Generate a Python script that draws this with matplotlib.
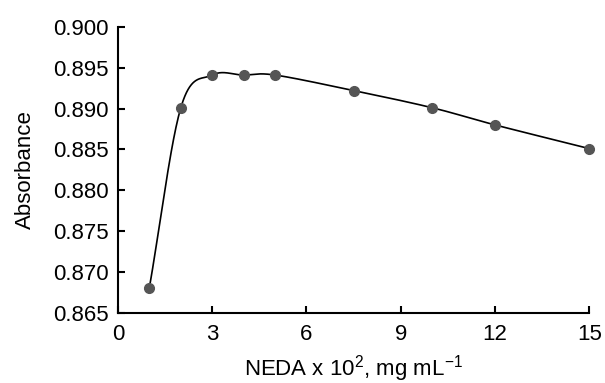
import matplotlib

matplotlib.use("Agg")

import matplotlib.pyplot as plt
import numpy as np

plt.rcParams["font.family"] = ["Liberation Sans", "DejaVu Sans"]
plt.rcParams["mathtext.fontset"] = "custom"
plt.rcParams["mathtext.rm"] = "Liberation Sans"

neda = [1, 2, 3, 4, 5, 7.5, 10, 12, 15]
absorbance = [0.8681, 0.8901, 0.8941, 0.8941, 0.8941, 0.8922, 0.8901, 0.8880, 0.8851]
x_ticks = [0, 3, 6, 9, 12, 15]
y_ticks = [0.865, 0.870, 0.875, 0.880, 0.885, 0.890, 0.895, 0.900]


def smooth_curve(xs, ys, steps=40):
    # Catmull-Rom through the points, like a spreadsheet "smoothed line"
    px = np.array(xs, dtype=float)
    py = np.array(ys, dtype=float)
    px = np.concatenate([[2 * px[0] - px[1]], px, [2 * px[-1] - px[-2]]])
    py = np.concatenate([[2 * py[0] - py[1]], py, [2 * py[-1] - py[-2]]])
    out_x, out_y = [], []
    t = np.linspace(0, 1, steps)
    for i in range(1, len(px) - 2):
        for arr, out in ((px, out_x), (py, out_y)):
            p0, p1, p2, p3 = arr[i - 1], arr[i], arr[i + 1], arr[i + 2]
            seg = 0.5 * (
                2 * p1
                + (-p0 + p2) * t
                + (2 * p0 - 5 * p1 + 4 * p2 - p3) * t ** 2
                + (-p0 + 3 * p1 - 3 * p2 + p3) * t ** 3
            )
            out.extend(seg)
    return out_x, out_y


fig = plt.figure(figsize=(6.05, 3.83), dpi=100)
ax = fig.add_axes([0.195, 0.183, 0.779, 0.747])

cx, cy = smooth_curve(neda, absorbance)
ax.plot(cx, cy, color="black", linewidth=1.2, zorder=2)
ax.plot(neda, absorbance, linestyle="none", marker="o", markersize=7,
        color="#555555", zorder=3, clip_on=False)

ax.set_xlim(0, 15)
ax.set_ylim(0.865, 0.900)
ax.set_xticks(x_ticks)
ax.set_yticks(y_ticks)
ax.set_yticklabels([f"{v:.3f}" for v in y_ticks])

for side in ("top", "right"):
    ax.spines[side].set_visible(False)
for side in ("left", "bottom"):
    ax.spines[side].set_linewidth(1.5)
ax.tick_params(direction="in", length=5, width=1.5, labelsize=16)
ax.tick_params(axis="y", pad=7)
ax.tick_params(axis="x", pad=8)

ax.set_ylabel("Absorbance", fontsize=16, labelpad=12)
ax.set_xlabel("NEDA x 10$^\\mathregular{2}$, mg mL$^\\mathregular{-1}$", fontsize=16, labelpad=6)

fig.savefig("out.png", dpi=100)
